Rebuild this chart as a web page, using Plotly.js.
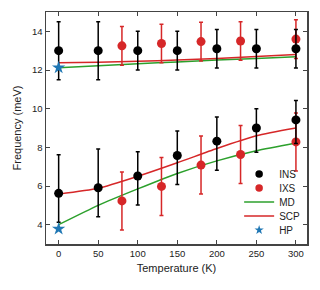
<!DOCTYPE html>
<html><head><meta charset="utf-8">
<script src="https://cdn.plot.ly/plotly-3.0.1.min.js"></script>
<style>html,body{margin:0;padding:0;background:#fff}#chart{width:320px;height:290px}</style>
</head><body><div id="chart"></div>
<script>
// INS (black)
const insT_hi = [0, 50, 100, 150, 200, 250, 300];
const insF_hi = [13.0, 13.0, 13.0, 13.0, 13.1, 13.1, 13.1];
const insE_hi = [1.5, 1.5, 1.0, 1.0, 1.0, 1.0, 1.0];
const insT_lo = [0, 50, 100, 150, 200, 250, 300];
const insF_lo = [5.62, 5.91, 6.52, 7.58, 8.32, 9.0, 9.42];
const insEp_lo = [2.0, 2.0, 1.25, 1.26, 1.25, 1.0, 1.0];
const insEm_lo = [1.5, 1.5, 1.5, 1.5, 1.5, 1.25, 1.22];
// IXS (red)
const ixsT_hi = [80, 130, 180, 230, 300];
const ixsF_hi = [13.25, 13.37, 13.47, 13.5, 13.6];
const ixsE_hi = [1.0, 1.0, 1.0, 1.0, 1.0];
const ixsT_lo = [80, 130, 180, 230, 300];
const ixsF_lo = [5.23, 5.98, 7.08, 7.63, 8.28];
const ixsE_lo = [1.5, 1.5, 1.5, 1.5, 1.5];
// MD (green) curves
const curveT = [0, 50, 100, 150, 200, 250, 300];
const mdHi = [12.12, 12.22, 12.32, 12.42, 12.52, 12.6, 12.68];
const mdLo = [4.0, 5.0, 5.85, 6.65, 7.3, 7.82, 8.22];
// SCP (red) curves
const scpHi = [12.37, 12.4, 12.45, 12.52, 12.6, 12.7, 12.8];
const scpLo = [5.58, 5.88, 6.5, 7.2, 7.94, 8.6, 9.0];
// HP (blue stars)
const hpT = [0, 0];
const hpF = [12.12, 3.78];
// legend labels
const legendNames = ['INS', 'IXS', 'MD', 'SCP', 'HP'];

const BLACK = '#000000', RED = '#d62728', GREEN = '#2ca02c', BLUE = '#1f77b4';
const lineOpts = (c) => ({color: c, width: 1.5, shape: 'spline', smoothing: 0.6});

const traces = [
  {x: curveT, y: mdHi, mode: 'lines', line: lineOpts(GREEN), name: 'MD', showlegend: false},
  {x: curveT, y: mdLo, mode: 'lines', line: lineOpts(GREEN), name: 'MD', showlegend: false},
  {x: curveT, y: scpHi, mode: 'lines', line: lineOpts(RED), name: 'SCP', showlegend: false},
  {x: curveT, y: scpLo, mode: 'lines', line: lineOpts(RED), name: 'SCP', showlegend: false},
  {x: ixsT_hi, y: ixsF_hi, mode: 'markers', marker: {color: RED, size: 9},
   error_y: {type: 'data', array: ixsE_hi, color: RED, thickness: 1.5, width: 2}, name: 'IXS', showlegend: false},
  {x: ixsT_lo, y: ixsF_lo, mode: 'markers', marker: {color: RED, size: 9},
   error_y: {type: 'data', array: ixsE_lo, color: RED, thickness: 1.5, width: 2}, name: 'IXS', showlegend: false},
  {x: insT_hi, y: insF_hi, mode: 'markers', marker: {color: BLACK, size: 9},
   error_y: {type: 'data', array: insE_hi, color: BLACK, thickness: 1.5, width: 2}, name: 'INS', showlegend: false},
  {x: insT_lo, y: insF_lo, mode: 'markers', marker: {color: BLACK, size: 9},
   error_y: {type: 'data', symmetric: false, array: insEp_lo, arrayminus: insEm_lo, color: BLACK, thickness: 1.5, width: 2}, name: 'INS', showlegend: false},
  {x: hpT, y: hpF, mode: 'markers', marker: {color: BLUE, size: 10, symbol: 'star'}, name: 'HP', showlegend: false},
  // legend entries, one legend each so the row spacing can match
  {x: [null], y: [null], mode: 'markers', marker: {color: BLACK, size: 7.5}, name: legendNames[0], legend: 'legend'},
  {x: [null], y: [null], mode: 'markers', marker: {color: RED, size: 7.5}, name: legendNames[1], legend: 'legend2'},
  {x: [null], y: [null], mode: 'lines', line: {color: GREEN, width: 1.5}, name: legendNames[2], legend: 'legend3'},
  {x: [null], y: [null], mode: 'lines', line: {color: RED, width: 1.5}, name: legendNames[3], legend: 'legend4'},
  {x: [null], y: [null], mode: 'markers', marker: {color: BLUE, size: 7, symbol: 'star'}, name: legendNames[4], legend: 'legend5'}
];

const axisCommon = {
  showgrid: false, zeroline: false, showline: true, mirror: 'ticks',
  linecolor: '#444', linewidth: 1.5, ticks: 'inside', ticklen: 4, tickwidth: 1, tickcolor: '#444',
  tickfont: {family: 'Liberation Sans, Arial, sans-serif', size: 9.5, color: '#222'}
};

const legendBase = (y) => ({x: 0.74, y: y, xanchor: 'left', yanchor: 'middle', bgcolor: 'rgba(0,0,0,0)',
  font: {size: 10, color: '#222'}, itemwidth: 30, borderwidth: 0});

const layout = {
  width: 320, height: 290,
  margin: {l: 46, r: 13, t: 12, b: 46},
  paper_bgcolor: '#fff', plot_bgcolor: '#fff',
  font: {family: 'Liberation Sans, Arial, sans-serif', color: '#222'},
  xaxis: Object.assign({}, axisCommon, {range: [-16, 314], tickvals: [0, 50, 100, 150, 200, 250, 300],
    title: {text: 'Temperature (K)', font: {size: 11}, standoff: 6}}),
  yaxis: Object.assign({}, axisCommon, {range: [3, 15], tickvals: [4, 6, 8, 10, 12, 14],
    title: {text: 'Frequency (meV)', font: {size: 11}, standoff: 8}}),
  showlegend: true,
  legend: legendBase(0.3017),
  legend2: legendBase(0.2414),
  legend3: legendBase(0.181),
  legend4: legendBase(0.1207),
  legend5: legendBase(0.0603)
};

Plotly.newPlot('chart', traces, layout, {displayModeBar: false, staticPlot: true});
</script></body></html>
